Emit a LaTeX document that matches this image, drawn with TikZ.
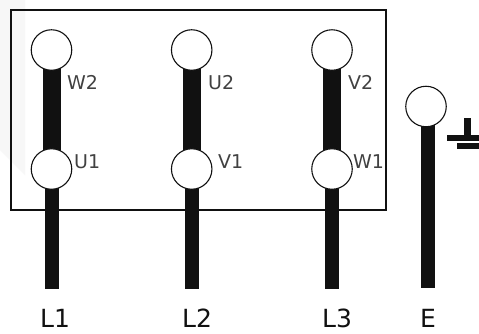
\documentclass[tikz,border=0pt]{standalone}
\usepackage{fontspec}
\setmainfont{DejaVu Sans}
\usetikzlibrary{backgrounds}
\definecolor{ink}{HTML}{111111}
\tikzset{
  term/.style={circle,draw=ink,line width=1.1pt,fill=white,minimum size=40.5pt,inner sep=0pt},
  thickbar/.style={line width=18pt,draw=ink},
  leadbar/.style={line width=14pt,draw=ink},
  small/.style={font=\fontsize{19}{19}\selectfont,text=ink!80,inner sep=0pt,anchor=base west},
  big/.style={font=\fontsize{25}{25}\selectfont,text=ink,inner sep=0pt,anchor=base},
  gnd/.style={draw=ink,line width=6.5pt}
}
\begin{document}
\begin{tikzpicture}[x=1pt,y=-1pt]
\useasboundingbox (0,0) rectangle (479,333);
\node[term] (w2) at (51.5,50) {};
\node[term] (u2) at (191.7,50) {};
\node[term] (v2) at (332,50) {};
\node[term] (u1) at (51.5,169) {};
\node[term] (v1) at (191.7,169) {};
\node[term] (w1) at (332,169) {};
\node[term] (e) at (426,106.5) {};
\coordinate (l1end) at (51.5,289);
\coordinate (l2end) at (191.7,289);
\coordinate (l3end) at (332,289);
\coordinate (eend) at (428,288);
\coordinate (estart) at (428,106.5);
\node[small] (tw2) at (67,89) {W2};
\node[small] (tu2) at (208,89) {U2};
\node[small] (tv2) at (348,89) {V2};
\node[small] (tu1) at (74,168) {U1};
\node[small] (tv1) at (218,168) {V1};
\node[small] (tw1) at (353,168) {W1};
\node[big] (tl1) at (55,327) {L1};
\node[big] (tl2) at (197,327) {L2};
\node[big] (tl3) at (337,327) {L3};
\node[big] (te) at (428,327) {E};
\begin{scope}[on background layer]
  \fill[white] (0,0) rectangle (479,333);
  \fill[black!3] (0,0) -- (25,0) -- (25,175) -- (0,150) -- cycle;
  \draw[draw=ink,line width=1.3pt] (11,10) rectangle (386,210);
  \draw[thickbar] (w2.center) -- (u1.center);
  \draw[thickbar] (u2.center) -- (v1.center);
  \draw[thickbar] (v2.center) -- (w1.center);
  \draw[leadbar] (u1.center) -- (l1end);
  \draw[leadbar] (v1.center) -- (l2end);
  \draw[leadbar] (w1.center) -- (l3end);
  \draw[leadbar] (estart) -- (eend);
\end{scope}
\draw[draw=ink,line width=7pt] (467.5,118) -- (467.5,138);
\draw[gnd] (447,138) -- (479,138);
\draw[gnd] (457,146) -- (479,146);
\end{tikzpicture}
\end{document}
